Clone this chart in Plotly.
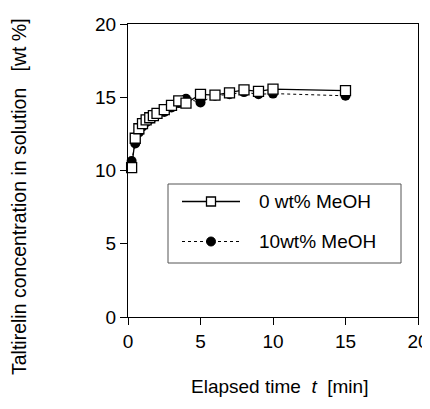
import plotly.graph_objects as go

# ---- data ----
time_min = [0.25, 0.5, 0.75, 1, 1.25, 1.5, 1.75, 2, 2.5, 3, 3.5, 4, 5, 6, 7, 8, 9, 10, 15]
meoh0 = [10.2, 12.2, 12.85, 13.2, 13.45, 13.6, 13.75, 13.9, 14.15, 14.45, 14.75, 14.6,
         15.2, 15.15, 15.3, 15.5, 15.4, 15.55, 15.45]
meoh10 = [10.65, 11.85, 12.6, 13.0, 13.3, 13.5, 13.65, 13.8, 14.0, 14.3, 14.6, 14.9,
          14.65, 15.1, 15.2, 15.35, 15.2, 15.25, 15.1]
label0 = "0 wt% MeOH"
label10 = "10wt% MeOH"
x_ticks = [0, 5, 10, 15, 20]
y_ticks = [0, 5, 10, 15, 20]

# page body has an 8px margin; figure sized to fill the rest of the 430x409 window
OFF = 8
W, H = 422, 401
ML, MR, MT, MB = 120, 12, 16, 92
PW, PH = W - ML - MR, H - MT - MB


def px(xp):  # xp: window pixel x in reference
    return (xp - OFF - ML) / PW


def py(yp):  # yp: window pixel y in reference
    return (H - MB - (yp - OFF)) / PH


FONT = "Liberation Sans, Arial, Helvetica, sans-serif"
NB = "\u00a0"

fig = go.Figure()
fig.add_trace(go.Scatter(
    x=time_min, y=meoh10, mode="lines+markers", name=label10,
    line=dict(color="black", width=1, dash="dot"),
    marker=dict(symbol="circle", size=10, color="black"),
    showlegend=False, cliponaxis=False))
fig.add_trace(go.Scatter(
    x=time_min, y=meoh0, mode="lines+markers", name=label0,
    line=dict(color="black", width=1.3),
    marker=dict(symbol="square", size=10, color="white", line=dict(color="black", width=1.3)),
    showlegend=False, cliponaxis=False))

axis_common = dict(
    showgrid=False, zeroline=False, showline=True, linecolor="black", linewidth=1.3,
    mirror=True, ticks="outside", ticklen=7, tickwidth=1.3, tickcolor="black",
    tickfont=dict(family=FONT, size=19, color="black"), ticklabeloverflow="allow",
    automargin=False,
)
fig.update_xaxes(range=[0, 20], tickvals=x_ticks, **axis_common)
fig.update_yaxes(range=[0, 20], tickvals=y_ticks, **axis_common)

# manual legend
shapes = [
    dict(type="rect", xref="paper", yref="paper", x0=px(168), x1=px(401), y0=py(263), y1=py(184),
         line=dict(color="#555", width=1), fillcolor="white", layer="above"),
    dict(type="line", xref="paper", yref="paper", x0=px(182), x1=px(240), y0=py(201.5), y1=py(201.5),
         line=dict(color="black", width=1.3)),
    dict(type="rect", xref="paper", yref="paper", x0=px(206.5), x1=px(215.5), y0=py(206), y1=py(197),
         line=dict(color="black", width=1.3), fillcolor="white"),
    dict(type="line", xref="paper", yref="paper", x0=px(182), x1=px(240), y0=py(241.5), y1=py(241.5),
         line=dict(color="black", width=1, dash="dot")),
    dict(type="circle", xref="paper", yref="paper", x0=px(206.5), x1=px(215.5), y0=py(246), y1=py(237),
         line=dict(color="black", width=1), fillcolor="black"),
]

annotations = [
    dict(text=label0, xref="paper", yref="paper", x=px(257), y=py(201.5), xanchor="left",
         yanchor="middle", showarrow=False, font=dict(family=FONT, size=19, color="black")),
    dict(text=label10, xref="paper", yref="paper", x=px(257), y=py(241.5), xanchor="left",
         yanchor="middle", showarrow=False, font=dict(family=FONT, size=19, color="black")),
    dict(text=f"Elapsed time{NB}{NB}<i>t</i>{NB}{NB}[min]", xref="paper", yref="paper",
         x=px(279), y=py(386), xanchor="center", yanchor="middle", showarrow=False,
         font=dict(family=FONT, size=19, color="black")),
    dict(text=f"Taltirelin concentration in solution{NB}{NB}{NB}[wt %]", xref="paper", yref="paper",
         x=px(19), y=py(197), xanchor="center", yanchor="middle", textangle=-90, showarrow=False,
         font=dict(family=FONT, size=19.5, color="black")),
]

fig.update_layout(
    width=W, height=H, margin=dict(l=ML, r=MR, t=MT, b=MB, autoexpand=False),
    paper_bgcolor="white", plot_bgcolor="white",
    shapes=shapes, annotations=annotations, showlegend=False,
)

fig.write_html("out.html")
